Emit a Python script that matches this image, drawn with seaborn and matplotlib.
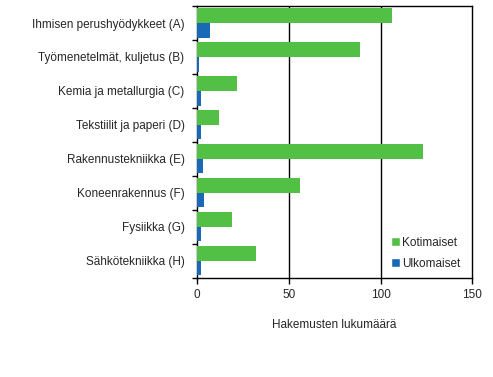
import matplotlib
matplotlib.use("Agg")
import matplotlib.pyplot as plt
import seaborn as sns
import pandas as pd
from matplotlib.patches import Patch

categories = ["Ihmisen perushyödykkeet (A)", "Työmenetelmät, kuljetus (B)",
              "Kemia ja metallurgia (C)", "Tekstiilit ja paperi (D)",
              "Rakennustekniikka (E)", "Koneenrakennus (F)", "Fysiikka (G)",
              "Sähkötekniikka (H)"]
kotimaiset = [106, 89, 22, 12, 123, 56, 19, 32]
ulkomaiset = [7, 1, 2, 2, 3, 4, 2, 2]
series = ["Kotimaiset", "Ulkomaiset"]
xticks = [0, 50, 100, 150]

df = pd.DataFrame({
    "cat": categories * 2,
    "val": kotimaiset + ulkomaiset,
    "ser": [series[0]] * len(categories) + [series[1]] * len(categories),
})

sns.set_style("white")
plt.rcParams["font.family"] = ["Liberation Sans", "DejaVu Sans"]
plt.rcParams["font.size"] = 8.5

green = "#52C044"
blue = "#1A69B7"

fig = plt.figure(figsize=(4.93, 3.77), dpi=100)
ax = fig.add_axes([0.3996, 0.2634, 0.958 - 0.3996, 0.984 - 0.2634])
sns.barplot(data=df, y="cat", x="val", hue="ser", order=categories,
            hue_order=series, palette=[green, blue], orient="h",
            width=0.86, saturation=1, ax=ax, legend=False, zorder=3,
            linewidth=0, edgecolor="none")

ax.set_xlim(0, 150)
ax.set_ylim(7.5, -0.5)
ax.set_xticks(xticks)
ax.set_xticklabels([str(t) for t in xticks], fontsize=8.5)
for x in [50, 100]:
    ax.axvline(x, color="black", lw=1, zorder=1)
ax.set_yticks(range(len(categories)))
ax.set_yticklabels(categories, fontsize=8.5)
ax.set_yticks([i - 0.5 for i in range(len(categories) + 1)], minor=True)
ax.tick_params(axis="y", which="major", length=0, pad=9)
ax.tick_params(axis="y", which="minor", length=3.5, width=1, color="black", direction="out", left=True)
ax.tick_params(axis="x", length=4, width=1, color="black", direction="out", bottom=True, pad=4)
for s in ax.spines.values():
    s.set_color("black")
    s.set_linewidth(1)
ax.set_ylabel("")
ax.set_xlabel("Hakemusten lukumäärä", fontsize=8.5, labelpad=13)

handles = [Patch(facecolor=green, label=series[0]), Patch(facecolor=blue, label=series[1])]
leg = ax.legend(handles=handles, loc="lower right", bbox_to_anchor=(0.995, -0.01),
                frameon=True, fancybox=False, framealpha=1, edgecolor="white",
                facecolor="white", handlelength=0.7, handleheight=0.8,
                handletextpad=0.2, labelspacing=0.75, borderpad=0.4, fontsize=8.5)
leg.set_zorder(2.4)

fig.savefig("out.png", dpi=100)
